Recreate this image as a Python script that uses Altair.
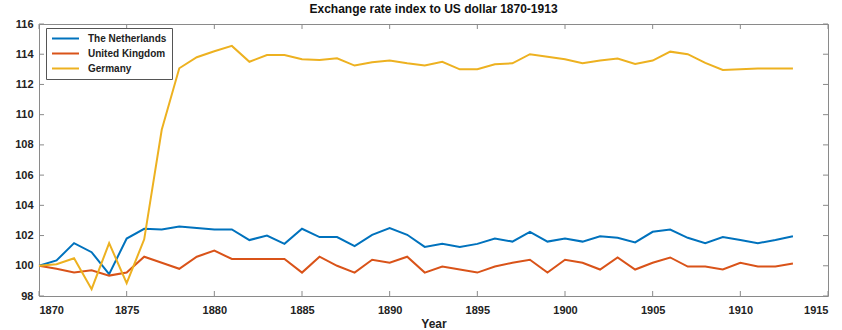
import altair as alt
import pandas as pd

# Exchange rate index to the US dollar (1870 = 100)
years = list(range(1870, 1914))
netherlands = [
    100.0, 100.35, 101.5, 100.9, 99.45, 101.8, 102.45, 102.4, 102.6, 102.5,
    102.4, 102.4, 101.7, 102.0, 101.45, 102.45, 101.9, 101.9, 101.3, 102.05,
    102.5, 102.05, 101.25, 101.45, 101.25, 101.45, 101.8, 101.6, 102.25, 101.6,
    101.8, 101.6, 101.95, 101.85, 101.55, 102.25, 102.4, 101.85, 101.5, 101.9,
    101.7, 101.5, 101.7, 101.95,
]
united_kingdom = [
    100.0, 99.8, 99.55, 99.7, 99.35, 99.55, 100.6, 100.2, 99.8, 100.6,
    101.0, 100.45, 100.45, 100.45, 100.45, 99.55, 100.6, 100.0, 99.55, 100.4,
    100.2, 100.6, 99.55, 99.95, 99.75, 99.55, 99.95, 100.2, 100.4, 99.55,
    100.4, 100.2, 99.75, 100.55, 99.75, 100.2, 100.55, 99.95, 99.95, 99.75,
    100.2, 99.95, 99.95, 100.15,
]
germany = [
    100.0, 100.1, 100.5, 98.45, 101.5, 98.85, 101.75, 109.0, 113.07, 113.8,
    114.2, 114.55, 113.5, 113.95, 113.95, 113.67, 113.62, 113.73, 113.25, 113.47,
    113.58, 113.4, 113.25, 113.5, 113.0, 113.0, 113.34, 113.4, 114.0, 113.84,
    113.67, 113.4, 113.58, 113.71, 113.36, 113.58, 114.17, 114.0, 113.43, 112.96,
    113.0, 113.05, 113.05, 113.05,
]

series_names = ["The Netherlands", "United Kingdom", "Germany"]
series_colors = ["#0072BD", "#D95319", "#EDB120"]
x_ticks = list(range(1870, 1916, 5))
y_ticks = list(range(98, 117, 2))

W, H = 789, 272
FONT = "Liberation Sans"
AXIS_GRAY = "#8a8a8a"

rows = []
for name, vals in zip(series_names, [netherlands, united_kingdom, germany]):
    for yr, v in zip(years, vals):
        rows.append({"Year": yr, "Index": v, "Country": name})
df = pd.DataFrame(rows)

x_scale = alt.Scale(domain=[1870, 1915], nice=False, zero=False)
y_scale = alt.Scale(domain=[98, 116], nice=False, zero=False)
x_axis = alt.Axis(values=x_ticks, format="d", labelOverlap=False, title="Year")
y_axis = alt.Axis(values=y_ticks, labelOverlap=False, title=None)

lines = alt.Chart(df).mark_line(strokeWidth=2).encode(
    x=alt.X("Year:Q", scale=x_scale, axis=x_axis),
    y=alt.Y("Index:Q", scale=y_scale, axis=y_axis),
    color=alt.Color(
        "Country:N",
        scale=alt.Scale(domain=series_names, range=series_colors),
        legend=alt.Legend(
            title=None,
            orient="none",
            legendX=7,
            legendY=4,
            symbolType="M-1,0H5",
            symbolSize=81,
            symbolStrokeWidth=2,
            labelOffset=26,
            labelFont=FONT,
            labelFontSize=10,
            labelFontWeight="bold",
            labelColor="#222222",
            rowPadding=4,
            padding=5,
            strokeColor="#555555",
            fillColor="white",
        ),
    ),
)

# inward-pointing tick marks on all four sides of the frame
xt = pd.DataFrame({"Year": x_ticks})
yt = pd.DataFrame({"Index": y_ticks})
tick_style = dict(color=AXIS_GRAY, strokeWidth=1)

bottom_ticks = alt.Chart(xt).mark_rule(**tick_style).encode(
    x=alt.X("Year:Q", scale=x_scale, axis=x_axis),
    y=alt.value(H), y2=alt.value(H - 5))
top_ticks = alt.Chart(xt).mark_rule(**tick_style).encode(
    x=alt.X("Year:Q", scale=x_scale, axis=x_axis),
    y=alt.value(0), y2=alt.value(5))
left_ticks = alt.Chart(yt).mark_rule(**tick_style).encode(
    y=alt.Y("Index:Q", scale=y_scale, axis=y_axis),
    x=alt.value(0), x2=alt.value(5))
right_ticks = alt.Chart(yt).mark_rule(**tick_style).encode(
    y=alt.Y("Index:Q", scale=y_scale, axis=y_axis),
    x=alt.value(W), x2=alt.value(W - 5))

chart = alt.layer(
    bottom_ticks, top_ticks, left_ticks, right_ticks, lines
).properties(
    width=W,
    height=H,
    title=alt.TitleParams(
        "Exchange rate index to US dollar 1870-1913",
        font=FONT, fontSize=12, fontWeight="bold", color="#111111",
        anchor="middle", offset=2,
    ),
    autosize=alt.AutoSizeParams(type="none"),
    padding={"left": 39, "top": 24, "right": 14, "bottom": 34},
).configure_view(
    stroke=AXIS_GRAY, strokeWidth=1
).configure_axis(
    domain=False,
    ticks=False,
    tickSize=0,
    grid=False,
    labelOverlap=False,
    labelFont=FONT,
    labelFontSize=11,
    labelFontWeight="bold",
    labelColor="#222222",
    titleFont=FONT,
    titleFontSize=12,
    titleFontWeight="bold",
    titleColor="#222222",
).configure_axisX(
    labelPadding=8, titlePadding=3
).configure_axisY(
    labelPadding=6
)

chart.save("out.html", embed_options={"renderer": "svg", "actions": False})
